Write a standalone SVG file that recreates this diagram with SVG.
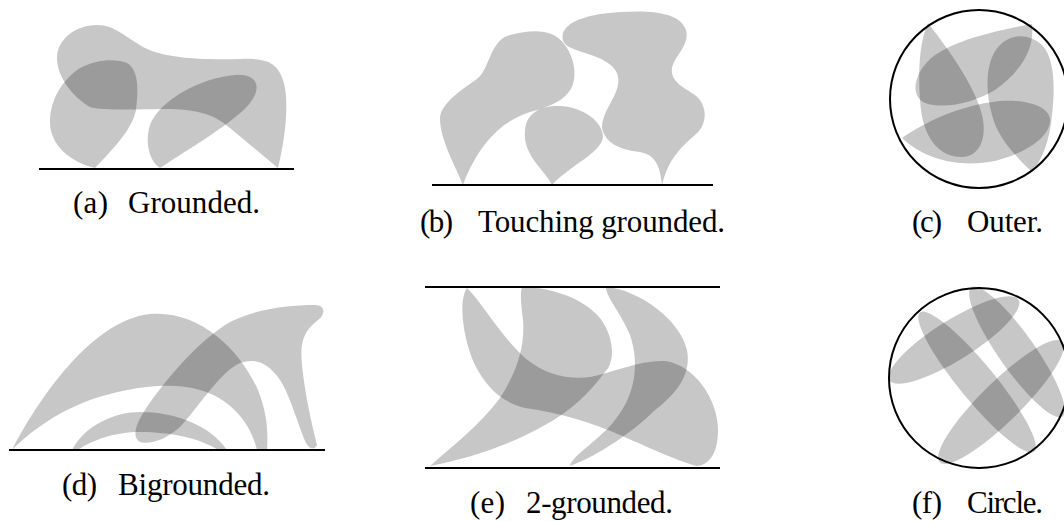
<svg xmlns="http://www.w3.org/2000/svg" width="1064" height="521" viewBox="0 0 1064 521">
<style>
.s{fill:#000;fill-opacity:.22;stroke:none}
.g{stroke:#000;stroke-width:1.8;fill:none}
.c{stroke:#000;stroke-width:2;fill:none}
text{font-family:"Liberation Serif","Times New Roman",serif;font-size:31px;fill:#000}
</style>
<rect width="1064" height="521" fill="#fff"/>
<g id="panel-a">
<path class="s" d="M 278,168 C 285,140 290,100 283,80 C 277,62 265,58 240,59 C 200,60 165,58 145,48 C 125,37 115,25 97,25 C 75,25 57,40 57,58 C 57,75 70,95 90,107 C 100,111 150,109 170,109 C 200,110 215,115 230,128 Z"/>
<path class="s" d="M 95,168 C 70,162 50,145 50,122 C 50,100 62,80 80,68 C 95,60 115,58 127,63 C 140,70 138,95 136,110 C 132,130 112,150 95,168 Z"/>
<path class="s" d="M 160,168 C 148,160 145,140 150,125 C 160,100 200,78 235,75 C 258,73 262,88 250,103 C 235,122 190,148 160,168 Z"/>
<line class="g" x1="39" y1="169" x2="294" y2="169"/>
<text x="73" y="213" textLength="35">(a)</text>
<text x="128" y="213" textLength="132">Grounded.</text>
</g>
<g id="panel-b">
<path class="s" d="M 463,185 C 455,165 440,140 440,118 C 441,102 465,88 478,78 C 490,68 490,40 510,35 C 535,28 555,30 565,45 C 576,60 578,82 568,93 C 560,103 545,108 530,112 C 505,120 480,140 463,185 Z"/>
<path class="s" d="M 552,185 C 545,170 522,155 525,130 C 527,110 545,105 560,106 C 580,107 600,118 603,135 C 604,152 570,165 552,185 Z"/>
<path class="s" d="M 662,185 C 660,165 655,155 640,152 C 620,150 605,143 602,128 C 602,112 615,100 618,85 C 622,65 600,58 585,53 C 570,48 560,45 563,33 C 568,20 590,14 620,12 C 650,10 680,12 686,30 C 690,45 675,55 672,68 C 670,82 685,88 695,95 C 708,105 708,125 695,135 C 680,148 668,160 662,185 Z"/>
<line class="g" x1="432" y1="185" x2="713" y2="185"/>
<text x="420" y="232" textLength="33">(b)</text>
<text x="478" y="232" textLength="247">Touching grounded.</text>
</g>
<g id="panel-c">
<path class="s" d="M 928,23 C 945,45 975,85 982,115 C 988,140 978,157 962,157 C 940,157 925,140 921,110 C 918,80 918,45 928,23 Z"/>
<path class="s" d="M 1032,24 C 1000,30 960,38 935,55 C 915,70 908,95 925,103 C 945,110 975,102 995,90 C 1020,72 1035,50 1032,24 Z"/>
<path class="s" d="M 1032,172 C 1020,160 998,140 992,115 C 985,90 985,60 1000,45 C 1012,33 1030,34 1042,45 C 1055,58 1055,90 1052,115 C 1050,140 1042,160 1032,172 Z"/>
<path class="s" d="M 902,138 C 925,122 960,105 1000,101 C 1030,99 1052,108 1050,122 C 1048,140 1020,155 995,161 C 960,168 925,160 902,138 Z"/>
<circle class="c" cx="979" cy="99" r="89"/>
<text x="912" y="232" textLength="30">(c)</text>
<text x="967" y="232" textLength="76">Outer.</text>
</g>
<g id="panel-d">
<path class="s" d="M 12,450 C 35,405 90,320 150,314 C 200,310 240,350 258,390 C 268,415 268,435 267,450 L 257,450 C 250,420 228,398 200,390 C 165,380 120,390 90,400 C 55,413 30,432 12,450 Z"/>
<path class="s" d="M 140,442 C 132,438 135,425 145,410 C 165,380 195,345 225,325 C 250,310 285,305 315,305 C 325,305 326,314 318,320 C 302,332 300,345 302,365 C 305,395 312,425 317,445 C 315,450 310,450 306,443 C 298,425 290,395 280,380 C 268,362 255,358 240,363 C 220,372 200,405 180,427 C 165,440 150,445 140,442 Z"/>
<path class="s" d="M 72,450 C 85,425 115,412 140,412 C 175,412 210,425 227,450 L 218,450 C 200,438 170,432 140,432 C 115,432 92,440 78,450 Z"/>
<line class="g" x1="9" y1="450" x2="325" y2="450"/>
<text x="62" y="495" textLength="35">(d)</text>
<text x="118" y="495" textLength="152">Bigrounded.</text>
</g>
<g id="panel-e">
<path class="s" d="M 467,288 C 480,300 500,335 525,358 C 545,375 570,380 590,377 C 615,372 640,360 665,361 C 695,365 718,400 718,430 C 718,455 708,465 697,466 C 680,462 650,448 620,435 C 590,422 560,413 525,408 C 500,402 485,385 475,365 C 463,340 458,300 467,288 Z"/>
<path class="s" d="M 522,287 C 545,287 580,295 600,318 C 615,338 615,362 605,372 C 590,392 570,412 545,425 C 510,445 470,458 430,466 C 450,448 480,425 500,398 C 518,370 525,345 523,320 C 521,305 520,292 522,287 Z"/>
<path class="s" d="M 606,287 C 640,290 680,320 687,350 C 692,375 675,395 655,410 C 635,430 600,455 570,466 C 572,455 600,440 615,420 C 635,395 640,365 630,335 C 622,315 605,295 606,287 Z"/>
<line class="g" x1="425" y1="287" x2="720" y2="287"/>
<line class="g" x1="425" y1="468" x2="720" y2="468"/>
<text x="470" y="513" textLength="35">(e)</text>
<text x="526" y="513" textLength="147">2-grounded.</text>
</g>
<g id="panel-f">
<ellipse class="s" cx="954" cy="340" rx="76" ry="20" transform="rotate(-32 954 340)"/>
<ellipse class="s" cx="977" cy="382" rx="90" ry="18" transform="rotate(50.6 977 382)"/>
<ellipse class="s" cx="1017" cy="352" rx="79" ry="18" transform="rotate(54.8 1017 352)"/>
<ellipse class="s" cx="1001" cy="402" rx="86" ry="20" transform="rotate(-44.5 1001 402)"/>
<circle class="c" cx="979" cy="378" r="90"/>
<text x="912" y="513" textLength="30">(f)</text>
<text x="967" y="513" textLength="76">Circle.</text>
</g>
</svg>
